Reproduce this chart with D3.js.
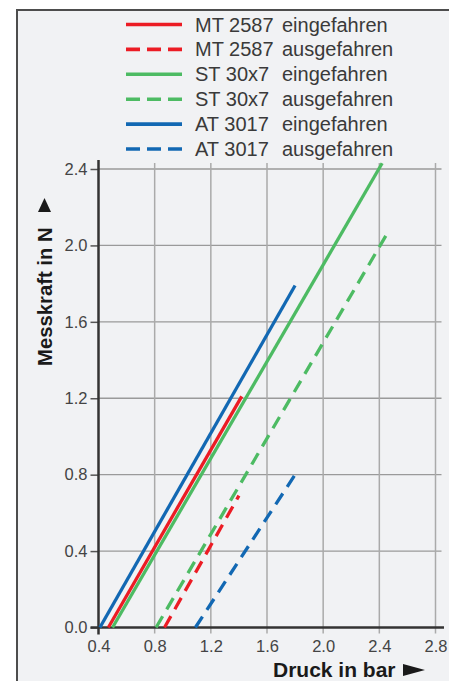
<!DOCTYPE html>
<html>
<head>
<meta charset="utf-8">
<script src="https://cdn.jsdelivr.net/npm/d3@7/dist/d3.min.js"></script>
<style>
  html, body { margin: 0; padding: 0; background: #ffffff; }
  svg { display: block; }
  text { font-family: "Liberation Sans", Arial, Helvetica, sans-serif; }
</style>
</head>
<body>
<svg id="chart" width="449" height="681"></svg>
<script>
// Tick values of both axes
const xTicks = [0.4, 0.8, 1.2, 1.6, 2.0, 2.4, 2.8];
const yTicks = [0.0, 0.4, 0.8, 1.2, 1.6, 2.0, 2.4];

// Series: pressure (bar) and measuring force (N) at start and end of each line
const seriesNames = ["MT 2587", "MT 2587", "ST 30x7", "ST 30x7", "AT 3017", "AT 3017"];
const seriesStates = ["eingefahren", "ausgefahren", "eingefahren", "ausgefahren", "eingefahren", "ausgefahren"];
const seriesColors = ["#ec1c24", "#ec1c24", "#4dbb63", "#4dbb63", "#1268b3", "#1268b3"];
const seriesDashed = [false, true, false, true, false, true];

const mt2587EinDruck = [0.47, 1.42];
const mt2587EinKraft = [0.0, 1.21];
const mt2587AusDruck = [0.87, 1.40];
const mt2587AusKraft = [0.0, 0.69];
const st30x7EinDruck = [0.50, 2.42];
const st30x7EinKraft = [0.0, 2.43];
const st30x7AusDruck = [0.81, 2.47];
const st30x7AusKraft = [0.0, 2.08];
const at3017EinDruck = [0.41, 1.80];
const at3017EinKraft = [0.0, 1.79];
const at3017AusDruck = [1.09, 1.80];
const at3017AusKraft = [0.0, 0.80];

const druckData = [mt2587EinDruck, mt2587AusDruck, st30x7EinDruck, st30x7AusDruck, at3017EinDruck, at3017AusDruck];
const kraftData = [mt2587EinKraft, mt2587AusKraft, st30x7EinKraft, st30x7AusKraft, at3017EinKraft, at3017AusKraft];

const svg = d3.select("#chart");

// Framed grey panel
svg.append("rect")
  .attr("x", 17).attr("y", 10)
  .attr("width", 460).attr("height", 700)
  .attr("fill", "#f1f2f4")
  .attr("stroke", "#4d4d4d")
  .attr("stroke-width", 2);

const x = d3.scaleLinear().domain([0.4, 2.8]).range([98.5, 435.5]);
const y = d3.scaleLinear().domain([0, 2.4]).range([627.5, 169]);

// Grid
const grid = svg.append("g");
grid.selectAll("line.h")
  .data(yTicks.filter(d => d > 0))
  .join("line")
  .attr("x1", x(0.4)).attr("x2", 441.5)
  .attr("y1", d => y(d)).attr("y2", d => y(d))
  .attr("stroke", "#9a9a9a").attr("stroke-width", 1.3);
grid.selectAll("line.v")
  .data(xTicks.filter(d => d > 0.4))
  .join("line")
  .attr("x1", d => x(d)).attr("x2", d => x(d))
  .attr("y1", y(0) + 6).attr("y2", 163)
  .attr("stroke", "#aaaaaa").attr("stroke-width", 1.5);

// Y axis labels and ticks
const yAxis = svg.append("g")
  .attr("transform", `translate(${x(0.4)},0)`)
  .call(d3.axisLeft(y).tickValues(yTicks).tickSize(8).tickPadding(3).tickFormat(d3.format(".1f")));
yAxis.select(".domain").remove();
yAxis.selectAll(".tick line").attr("stroke", "#555").attr("stroke-width", 1.5);
yAxis.selectAll(".tick text")
  .attr("fill", "#444").attr("font-size", 16.5)
  .attr("font-family", "Liberation Sans, Arial, sans-serif");

// X axis labels
const xAxis = svg.append("g")
  .attr("transform", `translate(0,${y(0)})`)
  .call(d3.axisBottom(x).tickValues(xTicks).tickSize(0).tickPadding(13).tickFormat(d3.format(".1f")));
xAxis.select(".domain").remove();
xAxis.selectAll(".tick text")
  .attr("fill", "#444").attr("font-size", 16.5)
  .attr("font-family", "Liberation Sans, Arial, sans-serif");

// Axis lines
svg.append("line")
  .attr("x1", x(0.4)).attr("x2", x(0.4))
  .attr("y1", y(0) + 7).attr("y2", 160)
  .attr("stroke", "#333").attr("stroke-width", 2.5);
svg.append("line")
  .attr("x1", x(0.4) - 8).attr("x2", 444)
  .attr("y1", y(0)).attr("y2", y(0))
  .attr("stroke", "#333").attr("stroke-width", 2.5);

// Series lines
const line = d3.line().x(d => x(d[0])).y(d => y(d[1]));
const lines = svg.append("g");
[4, 5, 0, 1, 2, 3].forEach(i => {
  const pts = druckData[i].map((d, j) => [d, kraftData[i][j]]);
  lines.append("path")
    .attr("d", line(pts))
    .attr("fill", "none")
    .attr("stroke", seriesColors[i])
    .attr("stroke-width", 3.3)
    .attr("stroke-dasharray", seriesDashed[i] ? "13,8" : null);
});

// Legend
const legend = svg.append("g");
seriesNames.forEach((name, i) => {
  const ly = 24.5 + i * 24.9;
  legend.append("line")
    .attr("x1", 126).attr("x2", 182)
    .attr("y1", ly).attr("y2", ly)
    .attr("stroke", seriesColors[i])
    .attr("stroke-width", 3.6)
    .attr("stroke-dasharray", seriesDashed[i] ? "14,7" : null);
  legend.append("text")
    .attr("x", 195).attr("y", ly + 7)
    .attr("font-size", 20).attr("fill", "#3a3a3a")
    .text(name);
  legend.append("text")
    .attr("x", 282).attr("y", ly + 7)
    .attr("font-size", 20).attr("fill", "#3a3a3a")
    .text(seriesStates[i]);
});

// Axis titles with arrows
svg.append("text")
  .attr("transform", "translate(52,366) rotate(-90)")
  .attr("font-size", 20.3).attr("font-weight", "bold").attr("fill", "#1a1a1a")
  .text("Messkraft in N");
svg.append("path")
  .attr("d", "M38,212 L51,212 L44.5,198 Z")
  .attr("fill", "#1a1a1a");

svg.append("text")
  .attr("x", 273).attr("y", 676.5)
  .attr("font-size", 21).attr("font-weight", "bold").attr("fill", "#1a1a1a")
  .text("Druck in bar");
svg.append("path")
  .attr("d", "M403,664 L403,676 L425,670 Z")
  .attr("fill", "#1a1a1a");
</script>
</body>
</html>
